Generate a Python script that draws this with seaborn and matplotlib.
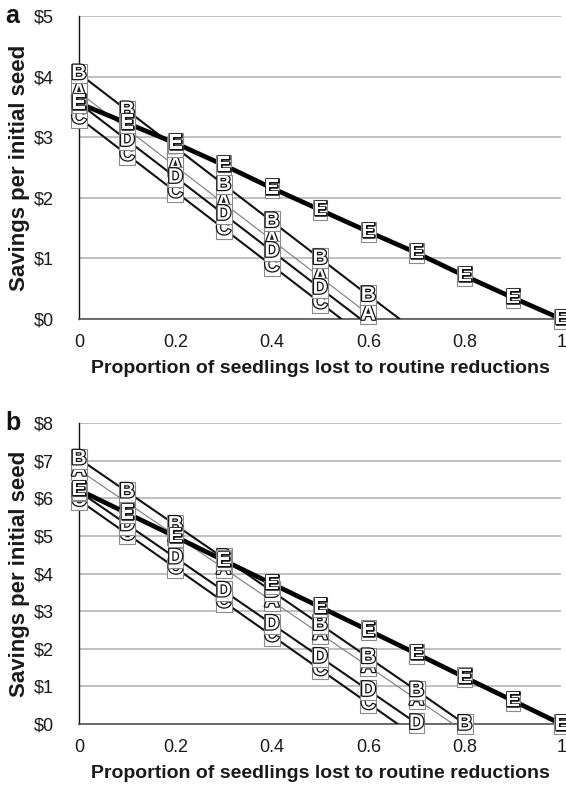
import numpy as np
import pandas as pd
import matplotlib
matplotlib.use("Agg")
import matplotlib.pyplot as plt
import matplotlib.patheffects as pe
import seaborn as sns

# ---------- Data ----------
SERIES = ["A", "B", "C", "D", "E"]

# panel a
a_x_A = [0, 0.1, 0.2, 0.3, 0.4, 0.5, 0.6, 0.613]
a_y_A = [3.74, 3.13, 2.52, 1.91, 1.30, 0.69, 0.08, 0.0]
a_x_B = [0, 0.1, 0.2, 0.3, 0.4, 0.5, 0.6, 0.665]
a_y_B = [4.05, 3.44, 2.83, 2.22, 1.61, 1.00, 0.39, 0.0]
a_x_C = [0, 0.1, 0.2, 0.3, 0.4, 0.5, 0.544]
a_y_C = [3.32, 2.71, 2.10, 1.49, 0.88, 0.27, 0.0]
a_x_D = [0, 0.1, 0.2, 0.3, 0.4, 0.5, 0.584]
a_y_D = [3.56, 2.95, 2.34, 1.73, 1.12, 0.51, 0.0]
a_x_E = [0, 0.1, 0.2, 0.3, 0.4, 0.5, 0.6, 0.7, 0.8, 0.9, 1.0]
a_y_E = [3.56, 3.23, 2.90, 2.54, 2.16, 1.80, 1.44, 1.09, 0.71, 0.35, 0.0]

# panel b
b_x_A = [0, 0.1, 0.2, 0.3, 0.4, 0.5, 0.6, 0.7, 0.776]
b_y_A = [6.75, 5.88, 5.01, 4.14, 3.27, 2.40, 1.53, 0.66, 0.0]
b_x_B = [0, 0.1, 0.2, 0.3, 0.4, 0.5, 0.6, 0.7, 0.80]
b_y_B = [7.05, 6.17, 5.29, 4.41, 3.53, 2.65, 1.77, 0.89, 0.0]
b_x_C = [0, 0.1, 0.2, 0.3, 0.4, 0.5, 0.6, 0.661]
b_y_C = [5.95, 5.05, 4.15, 3.25, 2.35, 1.45, 0.55, 0.0]
b_x_D = [0, 0.1, 0.2, 0.3, 0.4, 0.5, 0.6, 0.7]
b_y_D = [6.18, 5.30, 4.42, 3.54, 2.66, 1.78, 0.90, 0.02]
b_x_E = [0, 0.1, 0.2, 0.3, 0.4, 0.5, 0.6, 0.7, 0.8, 0.9, 1.0]
b_y_E = [6.22, 5.60, 4.98, 4.35, 3.73, 3.11, 2.49, 1.87, 1.24, 0.62, 0.0]

x_ticks = [0, 0.2, 0.4, 0.6, 0.8, 1]
x_tick_labels = ["0", "0.2", "0.4", "0.6", "0.8", "1"]
a_y_max = 5
b_y_max = 8

# ---------- Style ----------
sns.set_theme(style="white")
plt.rcParams["font.family"] = ["Liberation Sans", "DejaVu Sans"]

LINE_STYLE = {
    "A": dict(color="#7a7a7a", lw=0.8),
    "B": dict(color="#111111", lw=1.5),
    "C": dict(color="#111111", lw=1.5),
    "D": dict(color="#111111", lw=1.5),
    "E": dict(color="#000000", lw=3.4),
}
MARKER_FONT = ["Liberation Sans Narrow", "Liberation Sans", "DejaVu Sans"]
TEXT_COL = "#1a1a1a"
GRID_COL = "#b5b5b5"


def to_frame(xs, ys):
    rows = []
    for s in SERIES:
        for x, y in zip(xs[s], ys[s]):
            rows.append({"p": x, "savings": y, "series": s})
    return pd.DataFrame(rows)


def draw_panel(ax, df, y_max, letter):
    for i, s in enumerate(SERIES):
        sub = df[df["series"] == s]
        sns.lineplot(data=sub, x="p", y="savings", ax=ax, sort=False,
                     estimator=None, legend=False, zorder=3 + i,
                     **LINE_STYLE[s])
    # letter markers at every 0.1 step
    for i, s in enumerate(SERIES):
        sub = df[df["series"] == s]
        for x, y in zip(sub["p"], sub["savings"]):
            if not np.isclose(x * 10, round(x * 10)):
                continue
            ax.text(x, y, s, ha="center", va="center", fontsize=15,
                    fontweight="bold", family=MARKER_FONT, color="white",
                    zorder=20 + i, clip_on=False,
                    path_effects=[pe.withStroke(linewidth=1.8, foreground="#111111")],
                    bbox=dict(boxstyle="square,pad=0.02", fc="white",
                              ec="#8a8a8a", lw=0.8))

    ax.set_xlim(0, 1)
    ax.set_ylim(0, y_max)
    ax.set_yticks(range(0, y_max + 1))
    ax.set_yticklabels([f"${v}" for v in range(0, y_max + 1)])
    ax.set_xticks(x_ticks)
    ax.set_xticklabels(x_tick_labels)
    ax.yaxis.grid(True, color=GRID_COL, lw=1.2)
    ax.xaxis.grid(False)
    ax.set_axisbelow(True)
    for side in ["top", "right"]:
        ax.spines[side].set_visible(False)
    ax.spines["left"].set_color("#111111")
    ax.spines["left"].set_linewidth(1.0)
    ax.spines["bottom"].set_color("#555555")
    ax.spines["bottom"].set_linewidth(1.2)
    ax.tick_params(axis="both", direction="out", length=5, width=1,
                   color="#999999", labelsize=13, labelcolor=TEXT_COL)
    ax.tick_params(axis="y", pad=13)
    ax.tick_params(axis="x", pad=6)
    ax.set_xlabel("Proportion of seedlings lost to routine reductions",
                  fontsize=14, fontweight="bold", color=TEXT_COL, labelpad=6)
    ax.set_ylabel("Savings per initial seed", fontsize=16,
                  fontweight="bold", color=TEXT_COL, labelpad=3)
    ax.text(-0.152, 1.0, letter, transform=ax.transAxes, fontsize=18,
            fontweight="bold", color="#111111", ha="left", va="center")


df_a = to_frame({"A": a_x_A, "B": a_x_B, "C": a_x_C, "D": a_x_D, "E": a_x_E},
                {"A": a_y_A, "B": a_y_B, "C": a_y_C, "D": a_y_D, "E": a_y_E})
df_b = to_frame({"A": b_x_A, "B": b_x_B, "C": b_x_C, "D": b_x_D, "E": b_x_E},
                {"A": b_y_A, "B": b_y_B, "C": b_y_C, "D": b_y_D, "E": b_y_E})

fig = plt.figure(figsize=(5.66, 7.87), dpi=100)
ax_a = fig.add_axes([0.1396, 0.5947, 0.852, 0.385])
ax_b = fig.add_axes([0.1396, 0.0800, 0.852, 0.3825])

draw_panel(ax_a, df_a, a_y_max, "a")
draw_panel(ax_b, df_b, b_y_max, "b")

fig.savefig("out.png", dpi=100, facecolor="white")
